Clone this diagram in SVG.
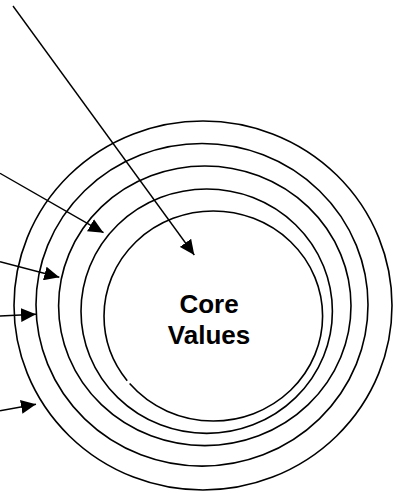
<svg xmlns="http://www.w3.org/2000/svg" width="393" height="493" viewBox="0 0 393 493">
  <style>
    .ring { fill: none; stroke: #000; stroke-width: 1.6; }
    .conn { fill: none; stroke: #000; stroke-width: 1.4; marker-end: url(#arrow); }
    .label { font-family: "Liberation Sans", Arial, sans-serif; font-weight: bold; font-size: 26px; fill: #000; text-anchor: middle; }
  </style>
  <defs>
    <marker id="arrow" markerUnits="userSpaceOnUse" markerWidth="15" markerHeight="14" refX="15" refY="7" orient="auto">
      <path d="M0,0 L15,7 L0,14 Z" fill="#000"/>
    </marker>
  </defs>
  <rect width="393" height="493" fill="#fff"/>
  <g id="ring5">
    <ellipse class="ring" cx="203" cy="305.5" rx="189" ry="184.5"/>
  </g>
  <g id="ring4">
    <ellipse class="ring" cx="202" cy="304.8" rx="166" ry="161.3"/>
  </g>
  <g id="ring3">
    <ellipse class="ring" cx="204.8" cy="305.8" rx="146.2" ry="139.8"/>
  </g>
  <g id="ring2">
    <ellipse class="ring" cx="206.7" cy="311.2" rx="125.7" ry="122.2"/>
  </g>
  <g id="core">
    <ellipse class="ring" cx="213.3" cy="316" rx="109.3" ry="105" pathLength="360" stroke-dasharray="140.5 2 230"/>
    <text class="label" x="209" y="313">Core</text>
    <text class="label" x="209" y="344">Values</text>
  </g>
  <g id="connectors">
    <line class="conn" x1="13" y1="6" x2="194.3" y2="255"/>
    <line class="conn" x1="0" y1="173.3" x2="103.5" y2="232.7"/>
    <line class="conn" x1="0" y1="261.7" x2="59.3" y2="277.3"/>
    <line class="conn" x1="0" y1="316" x2="36" y2="314.3"/>
    <line class="conn" x1="0" y1="410.7" x2="36" y2="404.3"/>
  </g>
</svg>
